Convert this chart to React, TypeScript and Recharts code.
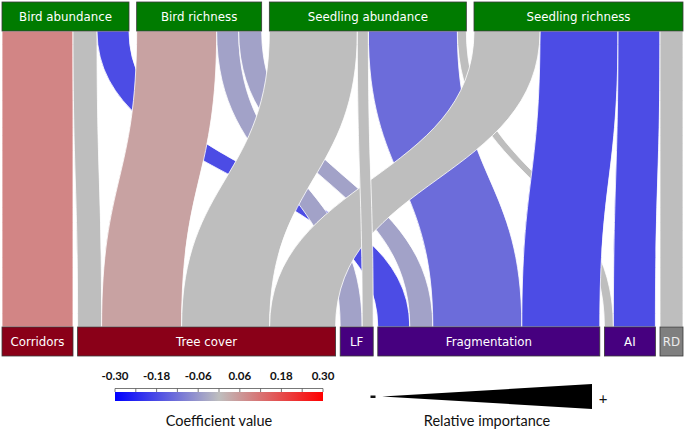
import React from "react";
import { Sankey } from "recharts";

// responses (top row) and predictors (bottom row)
const TOP_NODES = ["Bird abundance", "Bird richness", "Seedling abundance", "Seedling richness"];
const BOTTOM_NODES = ["Corridors", "Tree cover", "LF", "Fragmentation", "AI", "RD"];
const BOTTOM_GROUP = ["amount", "amount", "config", "config", "config", "other"];

// links, listed back to front (later ones are drawn on top)
const LINK_FROM = [
  "Bird abundance", "Bird abundance", "Seedling abundance", "Bird abundance",
  "Bird richness", "Bird richness", "Bird richness", "Seedling abundance",
  "Seedling richness", "Seedling richness", "Seedling richness", "Seedling abundance",
  "Seedling richness", "Seedling abundance",
];
const LINK_TO = [
  "Corridors", "Tree cover", "AI", "Fragmentation",
  "Tree cover", "LF", "Fragmentation", "Fragmentation",
  "Fragmentation", "AI", "RD", "Tree cover",
  "Tree cover", "LF",
];
const LINK_IMPORTANCE = [71, 24, 9, 32, 80, 22, 23, 89, 78, 42, 23, 88, 66, 11];
// null = not significant (grey)
const LINK_COEF: (number | null)[] = [
  0.09, null, null, -0.18, 0.045, -0.045, -0.045, -0.13, -0.18, -0.18, null, null, null, null,
];

const COEF_LABELS = [-0.3, -0.18, -0.06, 0.06, 0.18, 0.3];
const COEF_TICKS = [-0.3, -0.24, -0.18, -0.12, -0.06, 0, 0.06, 0.12, 0.18, 0.24, 0.3];

const W = 685;
const H = 429;
const SK = 685; // square sankey canvas, drawn transposed (flows run top -> bottom)
const SK_MARGIN = { top: 2, bottom: 2, left: 2, right: 329 };
const NODE_W = 29;
const NODE_PAD = 4.6;
const INNER = SK - SK_MARGIN.top - SK_MARGIN.bottom;
const TOTAL = LINK_IMPORTANCE.reduce((a, b) => a + b, 0);

const MID = [190, 190, 190];
const LOW = [0, 0, 255];
const HIGH = [255, 0, 0];

function coefColor(c: number | null) {
  if (c === null) return "#bebebe";
  const t = Math.min(1, Math.abs(c) / 0.3);
  const end = c < 0 ? LOW : HIGH;
  const rgb = MID.map((m, i) => Math.round(m + (end[i] - m) * t));
  return `rgb(${rgb.join(",")})`;
}

const GROUP_FILL: Record<string, string> = {
  amount: "#8a0018",
  config: "#46007f",
  other: "#7f7f7f",
};

// sankey packs every row from the start; spread the spare room of shorter rows into the gaps
function rowShift(name: string, ky: number) {
  const row = TOP_NODES.includes(name) ? TOP_NODES : BOTTOM_NODES;
  const rank = row.indexOf(name);
  if (rank <= 0) return 0;
  const spare = INNER - TOTAL * ky - (row.length - 1) * NODE_PAD;
  return (rank * Math.max(0, spare)) / (row.length - 1);
}

const nodes = [...TOP_NODES, ...BOTTOM_NODES].map((name) => ({ name }));
const allNames = nodes.map((n) => n.name);
const links = LINK_FROM.map((from, i) => ({
  source: allNames.indexOf(from),
  target: allNames.indexOf(LINK_TO[i]),
  value: LINK_IMPORTANCE[i],
  coef: LINK_COEF[i],
}));

const Ribbon = (props: any) => {
  const { sourceX, targetX, sourceY, targetY, linkWidth, payload } = props;
  const ky = linkWidth / payload.value;
  const w = linkWidth;
  const xs = sourceY - w / 2 + rowShift(payload.source.name, ky);
  const xt = targetY - w / 2 + rowShift(payload.target.name, ky);
  const y0 = sourceX;
  const y1 = targetX;
  const ym = (y0 + y1) / 2;
  const d =
    `M${xs},${y0} C${xs},${ym} ${xt},${ym} ${xt},${y1} ` +
    `L${xt + w},${y1} C${xt + w},${ym} ${xs + w},${ym} ${xs + w},${y0} Z`;
  return <path d={d} fill={coefColor(payload.coef)} stroke="#fff" strokeWidth={0.8} />;
};

const NodeBox = (props: any) => {
  const { x, y, width, height, payload } = props;
  const ky = height / payload.value;
  const sx = y + rowShift(payload.name, ky);
  const isTop = TOP_NODES.includes(payload.name);
  const fill = isTop ? "#007b00" : GROUP_FILL[BOTTOM_GROUP[BOTTOM_NODES.indexOf(payload.name)]];
  return (
    <g>
      <rect x={sx} y={x} width={height} height={width} fill={fill} stroke="#3a3a3a" strokeWidth={0.8} />
      <text
        x={sx + height / 2}
        y={x + width / 2 + 0.5}
        textAnchor="middle"
        dominantBaseline="central"
        fontFamily="DejaVu Sans"
        fontSize={11.8}
        fill={payload.name === "RD" ? "#ececec" : "#ffffff"}
      >
        {payload.name}
      </text>
    </g>
  );
};

// colour bar geometry
const BAR_X = 115;
const BAR_W = 208;
const barX = (v: number) => BAR_X + ((v + 0.3) / 0.6) * BAR_W;

export default function App() {
  return (
    <div
      style={{
        position: "absolute",
        left: 0,
        top: 0,
        width: W,
        height: H,
        overflow: "hidden",
        background: "#fff",
      }}
    >
      <Sankey
        width={SK}
        height={SK}
        data={{ nodes, links }}
        node={NodeBox}
        link={Ribbon}
        nodeWidth={NODE_W}
        nodePadding={NODE_PAD}
        iterations={0}
        margin={SK_MARGIN}
      />
      <svg width={W} height={H} style={{ position: "absolute", left: 0, top: 0, pointerEvents: "none" }}>
        <defs>
          <linearGradient id="coefGrad" x1="0" x2="1" y1="0" y2="0">
            <stop offset="0" stopColor="#0000ff" />
            <stop offset="0.5" stopColor="#bebebe" />
            <stop offset="1" stopColor="#ff0000" />
          </linearGradient>
        </defs>
        <rect x={BAR_X} y={392} width={BAR_W} height={9} fill="url(#coefGrad)" />
        <line x1={BAR_X} x2={BAR_X + BAR_W} y1={388.5} y2={388.5} stroke="#555" strokeWidth={0.8} />
        {COEF_TICKS.map((v) => (
          <line key={v} x1={barX(v)} x2={barX(v)} y1={388.5} y2={392} stroke="#555" strokeWidth={0.8} />
        ))}
        {COEF_LABELS.map((v) => (
          <text
            key={v}
            x={barX(v)}
            y={375}
            textAnchor="middle"
            dominantBaseline="central"
            fontFamily="Lato"
            fontWeight="bold"
            fontSize={11.5}
            fill="#111"
          >
            {v.toFixed(2)}
          </text>
        ))}
        <text x={219} y={420} textAnchor="middle" dominantBaseline="central" fontFamily="Lato" fontSize={14.5} fill="#111">
          Coefficient value
        </text>

        <rect x={370.5} y={395.5} width={5} height={2.5} fill="#111" />
        <polygon points="382,396.5 592,384 592,409" fill="#000" />
        <text x={603} y={398} textAnchor="middle" dominantBaseline="central" fontFamily="Lato" fontSize={15} fill="#111">
          +
        </text>
        <text x={487} y={420} textAnchor="middle" dominantBaseline="central" fontFamily="Lato" fontSize={14.5} fill="#111">
          Relative importance
        </text>
      </svg>
    </div>
  );
}
